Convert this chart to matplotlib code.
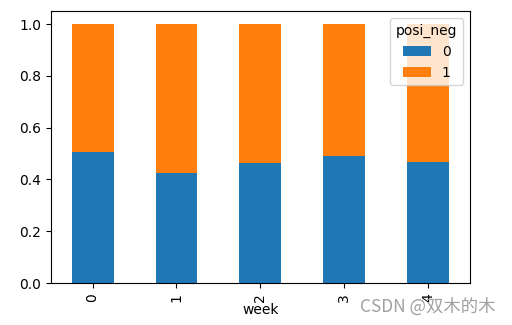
import matplotlib
matplotlib.use("Agg")
import matplotlib.pyplot as plt
import numpy as np

# proportions per week
weeks = ["0", "1", "2", "3", "4"]
neg = [0.505, 0.423, 0.462, 0.491, 0.467]   # posi_neg = 0
pos = [1 - v for v in neg]                  # posi_neg = 1

fig = plt.figure(figsize=(5.12, 3.25), dpi=100)
ax = fig.add_axes([0.099, 0.129, 0.819, 0.837])

x = np.arange(len(weeks))
ax.bar(x, neg, width=0.5, color="#1f77b4", label="0")
ax.bar(x, pos, width=0.5, bottom=neg, color="#ff7f0e", label="1")

ax.set_xticks(x)
ax.set_xticklabels(weeks, rotation=90)
ax.set_xlim(-0.5, len(weeks) - 0.5)
ax.set_ylim(0, 1.05)
ax.set_xlabel("week", labelpad=1)
ax.legend(title="posi_neg", loc="upper right")

fig.text(0.703, 0.057, "CSDN @双木的木", color="#a0a0a0", fontsize=12.5,
         family=["Noto Sans CJK SC", "DejaVu Sans"], va="center")

fig.savefig("out.png", dpi=100)
